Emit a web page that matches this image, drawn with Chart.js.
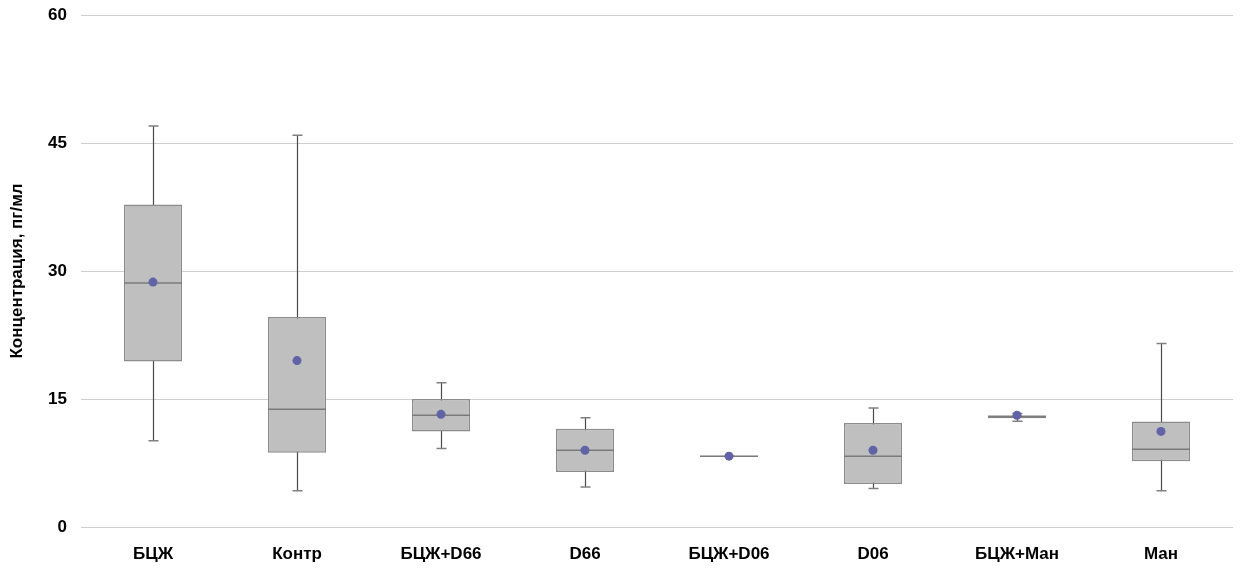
<!DOCTYPE html>
<html>
<head>
<meta charset="utf-8">
<script src="https://cdn.jsdelivr.net/npm/chart.js@4"></script>
<style>
    html, body { margin: 0; background: #fff; }
    #wrap { width: 1243px; height: 572px; }
</style>
</head>
<body>
<div id="wrap"><canvas id="boxChart"></canvas></div>
<script>
// данные (пг/мл)
const categories = ['БЦЖ', 'Контр', 'БЦЖ+D66', 'D66', 'БЦЖ+D06', 'D06', 'БЦЖ+Ман', 'Ман'];
const minVals    = [10.1, 4.25, 9.2, 4.7, 8.3, 4.5, 12.4, 4.25];
const q1Vals     = [19.4, 8.7, 11.2, 6.45, 8.22, 5.04, 12.75, 7.7];
const medianVals = [28.6, 13.8, 13.1, 9.0, 8.28, 8.3, 12.9, 9.1];
const q3Vals     = [37.8, 24.6, 15.0, 11.5, 8.34, 12.2, 13.1, 12.35];
const maxVals    = [47.0, 45.9, 16.9, 12.8, 8.3, 13.95, 13.3, 21.5];
const meanVals   = [28.7, 19.5, 13.2, 9.0, 8.3, 9.0, 13.1, 11.2];
const yTicks     = [0, 15, 30, 45, 60];

const FONT = '"Liberation Sans", Arial, sans-serif';

// усы, засечки и медианы рисуем по шкалам графика
const boxExtras = {
    id: 'boxExtras',
    beforeDatasetsDraw(chart) {
        const { ctx, scales: { x, y } } = chart;
        ctx.save();
        categories.forEach((c, i) => {
            const px = Math.round(x.getPixelForValue(i)) + 0.5;
            const yMin = y.getPixelForValue(minVals[i]);
            const yMax = y.getPixelForValue(maxVals[i]);
            ctx.strokeStyle = '#4a4a4a';
            ctx.lineWidth = 1.2;
            ctx.beginPath();
            ctx.moveTo(px, yMin);
            ctx.lineTo(px, yMax);
            ctx.stroke();
            ctx.strokeStyle = '#808080';
            ctx.lineWidth = 1.5;
            ctx.beginPath();
            ctx.moveTo(px - 5, yMin);
            ctx.lineTo(px + 5, yMin);
            ctx.moveTo(px - 5, yMax);
            ctx.lineTo(px + 5, yMax);
            ctx.stroke();
        });
        ctx.restore();
    },
    afterDatasetDraw(chart, args) {
        if (args.index !== 0) return;
        const { ctx, scales: { y } } = chart;
        const meta = chart.getDatasetMeta(0);
        ctx.save();
        ctx.strokeStyle = '#7a7a7a';
        ctx.lineWidth = 1.5;
        meta.data.forEach((bar, i) => {
            const py = y.getPixelForValue(medianVals[i]);
            ctx.beginPath();
            ctx.moveTo(bar.x - bar.width / 2, py);
            ctx.lineTo(bar.x + bar.width / 2, py);
            ctx.stroke();
        });
        ctx.restore();
    }
};

const ctx = document.getElementById('boxChart').getContext('2d');
new Chart(ctx, {
    type: 'bar',
    data: {
        labels: categories,
        datasets: [
            {
                label: 'IQR',
                data: categories.map((c, i) => [q1Vals[i], q3Vals[i]]),
                backgroundColor: '#bfbfbf',
                borderColor: '#8c8c8c',
                borderWidth: 1.5,
                borderSkipped: false,
                barPercentage: 0.403,
                categoryPercentage: 1,
                order: 2
            },
            {
                type: 'line',
                label: 'Среднее',
                data: meanVals,
                showLine: false,
                pointRadius: 4.5,
                pointBackgroundColor: '#6063a6',
                pointBorderWidth: 0,
                order: 1
            }
        ]
    },
    options: {
        responsive: true,
        maintainAspectRatio: false,
        animation: false,
        layout: { padding: { top: 15, right: 10, left: 0, bottom: 0 } },
        plugins: {
            legend: { display: false },
            tooltip: { enabled: false }
        },
        scales: {
            x: {
                grid: { display: false, drawTicks: false },
                border: { display: false },
                ticks: {
                    padding: 17,
                    color: '#000',
                    font: { family: FONT, size: 17, weight: 'bold' }
                },
                afterFit(scale) {
                    scale.height = 45;
                    scale.paddingLeft = 0;
                    scale.paddingRight = 0;
                }
            },
            y: {
                min: 0,
                max: 60,
                afterBuildTicks(scale) { scale.ticks = yTicks.map(v => ({ value: v })); },
                grid: { color: '#cfcfcf', lineWidth: 1, drawTicks: false },
                border: { display: false },
                ticks: {
                    padding: 14,
                    color: '#000',
                    font: { family: FONT, size: 17, weight: 'bold' }
                },
                title: {
                    display: true,
                    text: 'Концентрация, пг/мл',
                    color: '#000',
                    padding: { top: 7, bottom: 4 },
                    font: { family: FONT, size: 17, weight: 'bold' }
                },
                afterFit(scale) {
                    scale.width = 81;
                    scale.paddingTop = 0;
                    scale.paddingBottom = 0;
                }
            }
        }
    },
    plugins: [boxExtras]
});
</script>
</body>
</html>
